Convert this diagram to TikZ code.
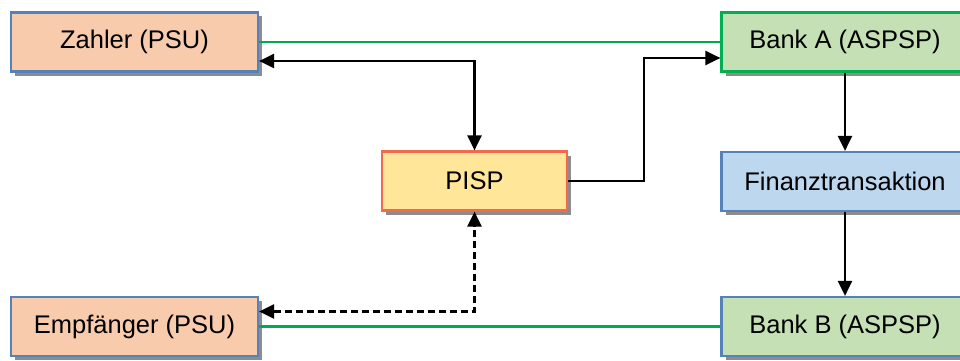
\documentclass[tikz,border=0pt]{standalone}
\usepackage{fontspec}
\setmainfont{Liberation Sans}
\usetikzlibrary{arrows.meta,shadows,calc}
\definecolor{psuFill}  {RGB}{248, 203, 173}
\definecolor{psuLine}  {RGB}{ 84, 130, 185}
\definecolor{bankFill} {RGB}{197, 224, 180}
\definecolor{bankLine} {RGB}{  0, 176,  80}
\definecolor{pispFill} {RGB}{255, 230, 153}
\definecolor{pispLine} {RGB}{244, 105,  75}
\definecolor{finFill}  {RGB}{189, 215, 238}
\definecolor{linkGreen}{RGB}{  0, 170,  80}

\begin{document}
\begin{tikzpicture}[x=1pt,y=-1pt,
    box/.style={line width=2.2pt,minimum height=59pt,inner sep=0pt,
                font=\fontsize{25.5}{30}\selectfont,
                drop shadow={shadow xshift=4pt,shadow yshift=-4pt,
                             fill=black!45,opacity=1}},
    arr/.style={line width=2.3pt,-{Triangle[length=15pt,width=14pt]}},
    darr/.style={arr,{Triangle[length=15pt,width=14pt]}-{Triangle[length=15pt,width=14pt]}},
    link/.style={linkGreen,line width=2.3pt}]

    \useasboundingbox (0,0) rectangle (960,361);
    \clip (0,0) rectangle (960,361);

    % Kaesten
    \foreach \name/\x/\y/\breite/\fc/\lc/\txt in {
      zahler/134.5/42/247/psuFill/psuLine/{Zahler (PSU)},
      banka/845/42/247/bankFill/bankLine/{Bank A (ASPSP)},
      pisp/474.5/181/185/pispFill/pispLine/{PISP},
      finanz/845/181.5/247/finFill/psuLine/{Finanztransaktion},
      empf/134.5/326.5/247/psuFill/psuLine/{Empfänger (PSU)},
      bankb/845/326.5/247/bankFill/psuLine/{Bank B (ASPSP)}}{
      \node[box,draw=\lc,fill=\fc,minimum width=\breite pt] (\name) at (\x,\y) {\txt};
    }

    % Verbindungen
    \draw[link] (zahler.east) -- (banka.west);
    \draw[link] (empf.east) -- (bankb.west);
    \draw[darr] ([yshift=-19pt]zahler.east) -| (pisp.north);
    \draw[arr] (pisp.east) -| ($(pisp.east)!.5!(banka.west)$)
               |- ([yshift=-16pt]banka.west);
    \draw[arr] (banka) -- (finanz);
    \draw[arr] (finanz) -- (bankb);
    \draw[darr,dash pattern=on 7pt off 4pt] ([yshift=15pt]empf.east) -| (pisp.south);

\end{tikzpicture}
\end{document}
